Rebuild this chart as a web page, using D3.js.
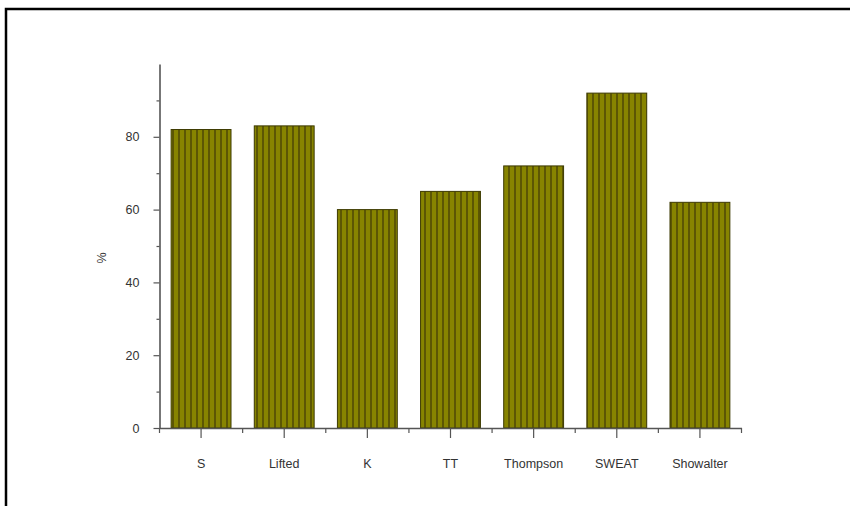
<!DOCTYPE html>
<html>
<head>
<meta charset="utf-8">
<script src="https://cdn.jsdelivr.net/npm/d3@7"></script>
<style>
  html, body { margin: 0; padding: 0; background: #fff; }
  svg { display: block; }
  text { font-family: "Liberation Sans", Arial, sans-serif; }
</style>
</head>
<body>
<svg id="chart" width="850" height="506"></svg>
<script>
// Stability indices and their skill scores (%)
const categories = ["S", "Lifted", "K", "TT", "Thompson", "SWEAT", "Showalter"];
const values = [82, 83, 60, 65, 72, 92, 62];
const yTicks = [0, 20, 40, 60, 80];
const yMinorTicks = [10, 30, 50, 70, 90];
const yLabel = "%";

const svg = d3.select("#chart");
const W = 850, H = 506;
const m = { left: 159.5, right: 108.5, top: 64, bottom: 78 };

// Outer frame (only top and left edges fall inside the view)
svg.append("path")
  .attr("d", `M6,${H + 5} V9 H${W + 5}`)
  .attr("fill", "none")
  .attr("stroke", "#000")
  .attr("stroke-width", 2.5);

// Vertical stripe pattern for the bars
const defs = svg.append("defs");
const pat = defs.append("pattern")
  .attr("id", "stripes")
  .attr("patternUnits", "userSpaceOnUse")
  .attr("width", 6).attr("height", 10);
pat.append("rect").attr("width", 6).attr("height", 10).attr("fill", "#878400");
pat.append("rect").attr("x", 4).attr("width", 2).attr("height", 10).attr("fill", "#5c5604");

const x = d3.scaleBand()
  .domain(categories)
  .range([m.left, W - m.right])
  .paddingInner(0.28)
  .paddingOuter(0.14);

const y = d3.scaleLinear()
  .domain([0, 100])
  .range([H - m.bottom, m.top]);

const axisColor = "#555";
const labelColor = "#333";

// Bars
svg.append("g")
  .selectAll("rect")
  .data(categories)
  .join("rect")
  .attr("x", d => x(d))
  .attr("y", (d, i) => y(values[i]))
  .attr("width", x.bandwidth())
  .attr("height", (d, i) => y(0) - y(values[i]))
  .attr("fill", "url(#stripes)")
  .attr("stroke", "#3d3a00")
  .attr("stroke-width", 1);

// Y axis: major ticks with labels, minor ticks
svg.append("g")
  .attr("transform", `translate(${m.left},0)`)
  .call(d3.axisLeft(y).tickValues(yTicks).tickSize(6).tickPadding(14).tickSizeOuter(0));
svg.append("g")
  .attr("transform", `translate(${m.left},0)`)
  .call(d3.axisLeft(y).tickValues(yMinorTicks).tickSize(3).tickFormat("").tickSizeOuter(0))
  .select(".domain").remove();

// X axis: category ticks at band centres, minor ticks at band edges
svg.append("g")
  .attr("transform", `translate(0,${y(0)})`)
  .call(d3.axisBottom(x).tickSize(10).tickPadding(21).tickSizeOuter(0));
const step = x.step();
const edges = d3.range(categories.length + 1).map(i => m.left + i * step);
svg.append("g")
  .selectAll("line")
  .data(edges)
  .join("line")
  .attr("x1", d => d).attr("x2", d => d)
  .attr("y1", y(0)).attr("y2", y(0) + 5)
  .attr("stroke", axisColor)
  .attr("stroke-width", 1.2);

svg.selectAll(".domain").attr("stroke", axisColor).attr("stroke-width", 1.6);
svg.selectAll(".tick line").attr("stroke", axisColor).attr("stroke-width", 1.2);
svg.selectAll(".tick text")
  .attr("fill", labelColor)
  .style("font-size", "12.5px");

// Y axis title
svg.append("text")
  .attr("transform", `translate(106,${(y(0) + y(100)) / 2 + 12}) rotate(-90)`)
  .attr("text-anchor", "middle")
  .attr("fill", labelColor)
  .style("font-size", "12.5px")
  .text(yLabel);
</script>
</body>
</html>
